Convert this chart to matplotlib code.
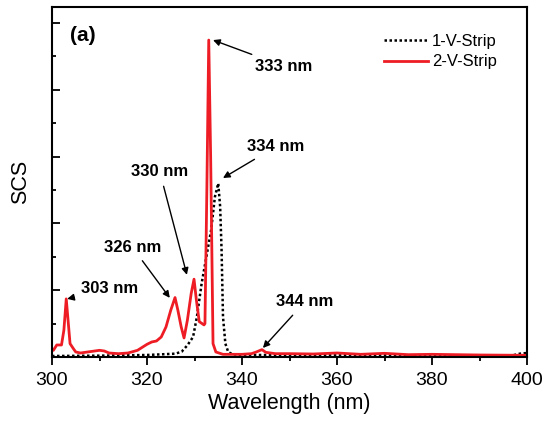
import numpy as np
import matplotlib
matplotlib.use('Agg')
import matplotlib.pyplot as plt
from matplotlib.ticker import MultipleLocator

plt.rcParams['font.family'] = ['Liberation Sans', 'DejaVu Sans']

# 1-V-Strip (black dotted)
wl_1v = [300, 310, 320, 326, 327.3, 328.5, 329.7, 330.5, 331.5, 332.5, 333.5, 334.3, 335.0,
         335.4, 335.7, 336.0, 336.5, 337.1, 338, 340, 350, 360, 380, 397, 398.5, 400]
scs_1v = [0.03, 0.04, 0.06, 0.1, 0.16, 0.35, 0.6, 1.2, 2.2, 3.0, 3.8, 4.8, 5.2,
          4.5, 3.2, 1.2, 0.4, 0.15, 0.08, 0.06, 0.06, 0.05, 0.05, 0.05, 0.1, 0.12]

# 2-V-Strip (red solid)
wl_2v = [300, 300.3, 301, 302, 302.5, 303, 303.8, 304.5, 305, 306, 308, 310, 311, 312, 314, 316,
         318, 320, 321, 322, 323, 324, 325, 325.9, 326.5, 327.2, 327.8, 328.5, 329.3, 329.9,
         330.4, 331, 332, 332.2, 332.6, 333.0, 333.4, 333.9, 334.5, 336, 340, 342, 343, 344.2,
         345, 347, 350, 355, 360, 365, 370, 375, 380, 390, 400]
scs_2v = [0.25, 0.2, 0.36, 0.36, 0.8, 1.74, 0.4, 0.25, 0.15, 0.12, 0.16, 0.2, 0.18, 0.12, 0.1, 0.12,
          0.2, 0.38, 0.45, 0.48, 0.6, 0.9, 1.4, 1.78, 1.4, 0.9, 0.57, 1.1, 1.9, 2.33,
          1.7, 1.06, 0.96, 1.0, 5.0, 9.49, 6.0, 0.4, 0.15, 0.08, 0.08, 0.1, 0.15, 0.22,
          0.14, 0.1, 0.1, 0.09, 0.12, 0.08, 0.11, 0.07, 0.08, 0.06, 0.05]

# peak labels: text, arrow tip, text position
peak_labels = ['333 nm', '334 nm', '330 nm', '326 nm', '303 nm', '344 nm']
peak_tips = [(333.9, 9.49), (336.0, 5.36), (328.4, 2.46), (324.8, 1.77), (303.2, 1.74), (344.4, 0.27)]
label_pos = [(342.7, 8.71), (341.0, 6.29), (322.7, 5.54), (316.9, 3.29), (306.1, 2.04), (347.2, 1.65)]
label_ha = ['left', 'left', 'center', 'center', 'left', 'left']

fig = plt.figure(figsize=(5.57, 4.23), dpi=100)
ax = fig.add_axes([52/557, 1 - 357/423, 475/557, 350/423])

ax.plot(wl_1v, scs_1v, color='black', linestyle=(0, (1, 1)), linewidth=1.8, label='1-V-Strip')
ax.plot(wl_2v, scs_2v, color='#ee1c24', linestyle='-', linewidth=2.0, label='2-V-Strip')

for txt, tip, pos, ha in zip(peak_labels, peak_tips, label_pos, label_ha):
    ax.annotate(txt, xy=tip, xytext=pos, ha=ha, va='center', fontsize=12, fontweight='bold',
                arrowprops=dict(arrowstyle='-|>', color='black', lw=1.0,
                                mutation_scale=10, shrinkA=3, shrinkB=0))

ax.text(303.7, 9.64, '(a)', fontsize=15, fontweight='bold', ha='left', va='center')

ax.set_xlim(300, 400)
ax.set_ylim(0, 10.48)
ax.xaxis.set_major_locator(MultipleLocator(20))
ax.xaxis.set_minor_locator(MultipleLocator(10))
ax.yaxis.set_major_locator(MultipleLocator(2))
ax.yaxis.set_minor_locator(MultipleLocator(1))
ax.tick_params(axis='x', which='major', direction='out', length=6, width=1.3, labelsize=14, pad=5)
ax.tick_params(axis='x', which='minor', direction='out', length=3, width=1.3)
ax.tick_params(axis='y', which='major', direction='in', length=6, width=1.3, labelleft=False)
ax.tick_params(axis='y', which='minor', direction='in', length=3, width=1.3)
for s in ax.spines.values():
    s.set_linewidth(1.5)

ax.set_xlabel('Wavelength (nm)', fontsize=15.5, labelpad=3)
ax.set_ylabel('SCS', fontsize=15.5, labelpad=12)

ax.legend(loc='upper left', frameon=False, fontsize=12, handlelength=2.6,
          handletextpad=0.25, labelspacing=0.35, borderpad=0.4,
          bbox_to_anchor=(0.668, 0.967))

fig.savefig('out.png', dpi=100)
